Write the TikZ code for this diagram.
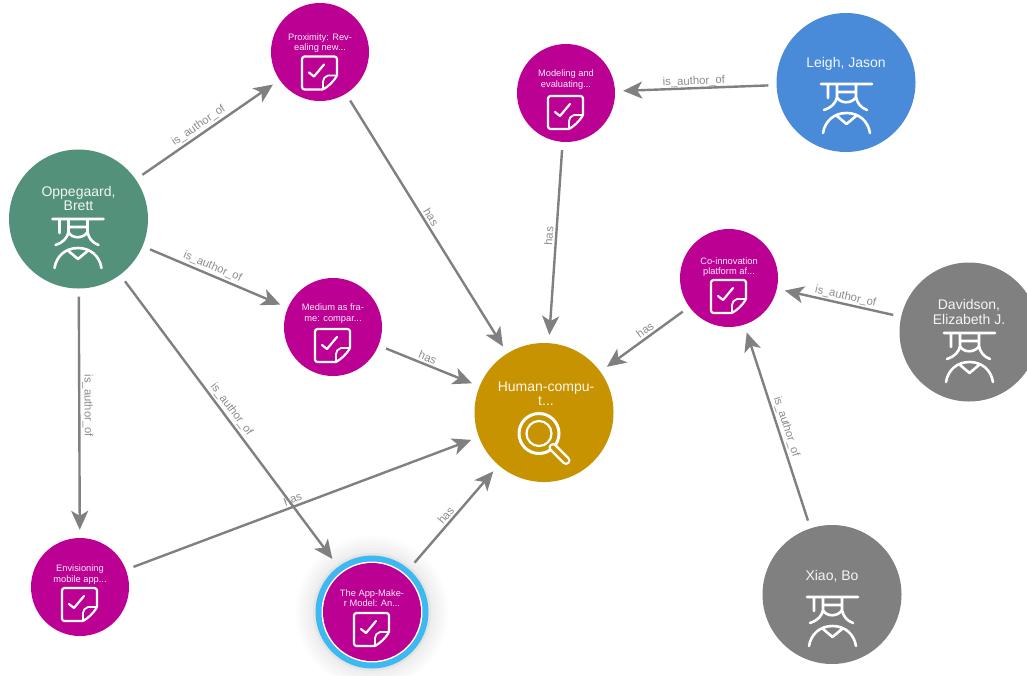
\documentclass[tikz,border=0pt]{standalone}
\usepackage{fontspec}
\setmainfont{Liberation Sans}
\usetikzlibrary{arrows.meta}
\definecolor{greenN}{HTML}{54917A}
\definecolor{blueN}{HTML}{4A8BD9}
\definecolor{grayN}{HTML}{808080}
\definecolor{magN}{HTML}{BC0094}
\definecolor{goldN}{HTML}{C79300}
\definecolor{ringN}{HTML}{3DB8F0}
\definecolor{edgeC}{HTML}{808080}
\definecolor{labC}{HTML}{8C8C8C}
\tikzset{
  bignode/.style={circle,inner sep=0pt,minimum size=139pt,fill=#1},
  docnode/.style={circle,inner sep=0pt,minimum size=98pt,fill=magN},
  bigtext/.style={text=white,font=\fontsize{14}{14.5}\selectfont,align=center,inner sep=0pt,text opacity=.92},
  smalltext/.style={text=white,font=\fontsize{9.3}{10.6}\selectfont,align=center,inner sep=0pt,text opacity=.92},
  edge/.style={draw=edgeC,line width=2.4pt,-{Stealth[length=19pt,width=17pt,inset=5pt]},shorten <=#1,shorten >=8pt},
  edge/.default=8pt,
  lab/.style={sloped,above,text=labC,font=\fontsize{11.3}{12}\selectfont,inner sep=2pt},
  docicon/.pic={
    \draw[white,line width=2.2pt,line join=round,rounded corners=2.5pt]
      (3,34) -- (-18,34) -- (-18,1) -- (17,1) -- (17,20);
    \draw[white,line width=2.2pt,line join=round] (17,20) .. controls (13,27) and (8,31) .. (3,34);
    \draw[white,line width=1.8pt,line join=round] (17,20) -- (8,20) .. controls (5,21) and (3,23) .. (3,26) -- (3,34);
    \draw[white,line width=2.2pt,line join=round,line cap=round] (-11,17) -- (-6,21) -- (4,9);
  },
  personicon/.pic={
    \draw[white,line width=2.6pt,line cap=round,line join=round]
      (-25,0) -- (26,0)
      (-18,0) -- (-18,14)
      (-9,0) -- (-9,13) .. controls (-10,19) and (-15,24) .. (-22,26)
      (10,0) -- (10,13) .. controls (11,19) and (15,24) .. (21,26)
      (-9,8) -- (10,8)
      (-9,13) .. controls (-6,20) and (6,20) .. (10,13)
      (-23,49) .. controls (-21,37) and (-12,29) .. (0.5,29) .. controls (13,29) and (22,37) .. (24,49)
      (-9,32) -- (0.5,40) -- (10,32);
  },
  searchicon/.pic={
    \draw[white,line width=3pt] (-5,21) circle (20);
    \draw[white,line width=2.2pt] (-5,21) circle (12.5);
    \draw[white,line width=9pt,line cap=round] (9,35) -- (22,48);
    \draw[goldN,line width=4.2pt,line cap=round] (9,35) -- (22,48);
  }
}
\begin{document}
\begin{tikzpicture}[x=1pt,y=-1pt]
\useasboundingbox (0,0) rectangle (1027,675);
% nodes
\node[bignode=greenN] (opp) at (78.5,219) {};
\node[bignode=blueN] (leigh) at (846,82.5) {};
\node[bignode=grayN] (dav) at (969,332) {};
\node[bignode=grayN] (xiao) at (832,594.5) {};
\node[bignode=goldN] (hum) at (544,412.5) {};
\node[docnode] (prox) at (320,52) {};
\node[docnode] (model) at (566,93) {};
\node[docnode] (med) at (333,327) {};
\node[docnode] (coin) at (729,278) {};
\node[docnode] (env) at (80,587) {};
% selected node halo and ring
\foreach \r in {76,73,70,67,64,61}{\fill[black,opacity=.012] (372,612) circle (\r);}
\fill[black,opacity=.04] (372,612) circle (59);
\fill[ringN] (372,612) circle (56.5);
\fill[white] (372,612) circle (50.5);
\node[docnode] (app) at (372,612) {};
% edges
\draw[edge] (opp) -- node[lab,pos=.47]{is\_author\_of} (prox);
\draw[edge] (opp) -- node[lab,pos=.46]{is\_author\_of} (med);
\draw[edge] (opp) -- node[lab,pos=.47]{is\_author\_of} (env);
\draw[edge,shorten >=17pt] (opp) -- node[lab,pos=.47]{is\_author\_of} (app);
\draw[edge] (prox) -- node[lab,pos=.49]{has} (hum);
\draw[edge] (model) -- node[lab,pos=.47]{has} (hum);
\draw[edge] (med) -- node[lab,pos=.46]{has} (hum);
\draw[edge] (env) -- node[lab,pos=.48]{has} (hum);
\draw[edge=16pt] (app) -- node[lab,pos=.5]{has} (hum);
\draw[edge] (coin) -- node[lab,pos=.45]{has} (hum);
\draw[edge] (leigh) -- node[lab,pos=.51,inner sep=0pt]{is\_author\_of} (model);
\draw[edge] (dav) -- node[lab,pos=.46,inner sep=1pt]{is\_author\_of} (coin);
\draw[edge] (xiao) -- node[lab,pos=.485]{is\_author\_of} (coin);
% texts
\node[bigtext] (t1) at (78.5,198.5) {Oppegaard,\\Brett};
\node[bigtext] (t2) at (846,64) {Leigh, Jason};
\node[bigtext] (t3) at (969,312) {Davidson,\\Elizabeth J.};
\node[bigtext] (t4) at (832,576) {Xiao, Bo};
\node[bigtext] (t5) at (546,393.5) {Human-compu-\\t...};
\node[smalltext] (t6) at (320,43) {Proximity: Rev-\\ealing new...};
\node[smalltext] (t7) at (566,79.5) {Modeling and\\evaluating...};
\node[smalltext] (t8) at (333,313.5) {Medium as fra-\\me: compar...};
\node[smalltext] (t9) at (729,267) {Co-innovation\\platform af...};
\node[smalltext] (t10) at (80,574.5) {Envisioning\\mobile app...};
\node[smalltext] (t11) at (372,598) {The App-Make-\\r Model: An...};
% icons
\pic at (77.5,219) {personicon};
\pic at (846,84) {personicon};
\pic at (969,333) {personicon};
\pic at (832,597) {personicon};
\pic at (544,412.5) {searchicon};
\pic at (320,55.5) {docicon};
\pic at (566,95) {docicon};
\pic at (333,328) {docicon};
\pic at (729,279) {docicon};
\pic at (80,587) {docicon};
\pic at (372,612) {docicon};
\end{tikzpicture}
\end{document}
